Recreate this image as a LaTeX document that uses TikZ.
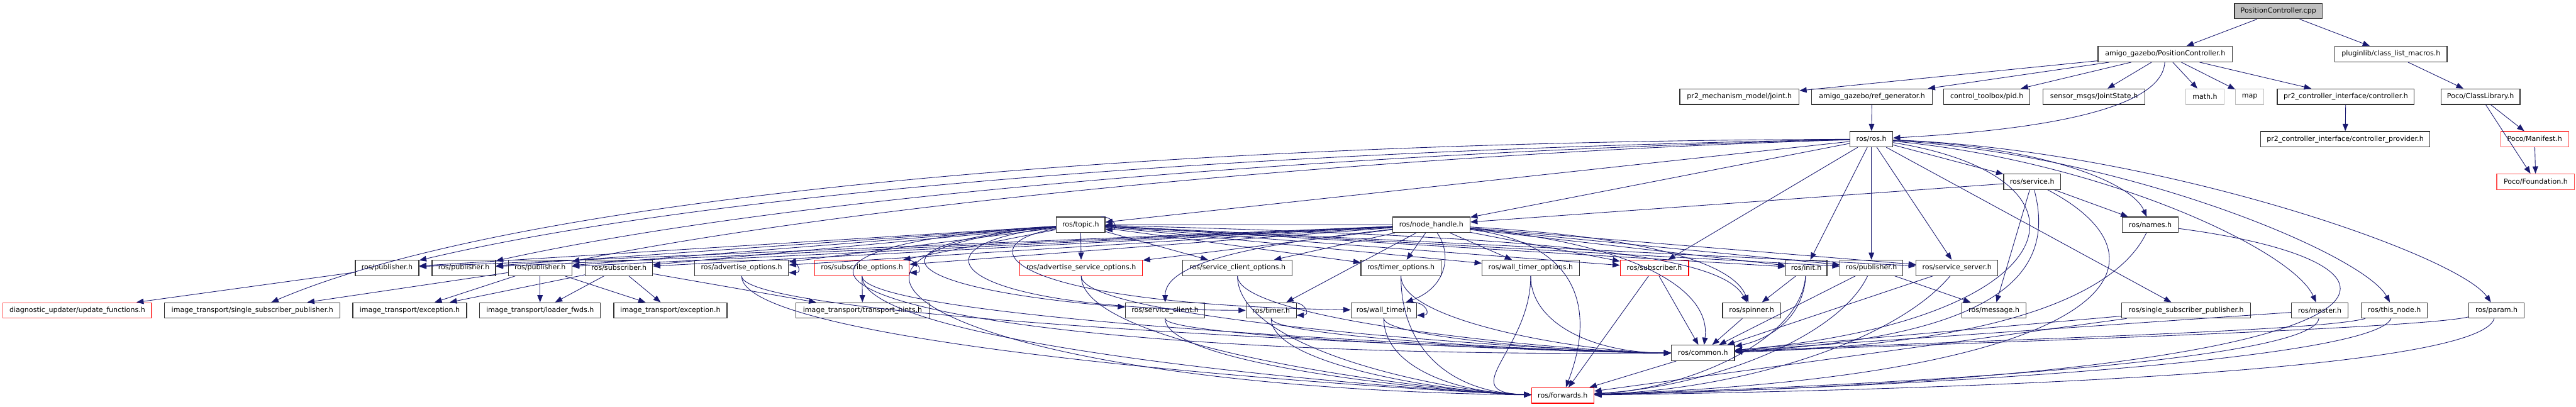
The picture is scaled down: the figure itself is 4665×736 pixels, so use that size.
\documentclass[tikz,border=0pt]{standalone}
\usepackage{fontspec}
\setmainfont{DejaVu Sans}
\usetikzlibrary{arrows.meta}
\definecolor{edgec}{HTML}{191970}
\definecolor{lred}{HTML}{FF4D4D}
\newcommand\boxfont{\fontsize{12.6pt}{15pt}\selectfont}
\tikzset{b/.style={draw=black!80,line width=1.4pt,minimum width=#1pt,minimum height=28pt,inner xsep=3pt,inner ysep=0pt,font=\boxfont},
rb/.style={b=#1,draw=red},lb/.style={b=#1,draw=lred},gb/.style={b=#1,draw=black!25},
arr/.style={draw=edgec,line width=1pt,-{Triangle[length=13pt,width=10pt]}}}

\begin{document}
\begin{tikzpicture}[x=1pt,y=-1pt]
\useasboundingbox(0,0)rectangle(4665,736);
\node[b=159,fill=black!25](cpp)at(4126,20){PositionController.cpp};
\node[b=243](agpc)at(3921,98){amigo\_gazebo/PositionController.h};\node[b=203](clm)at(4330,98){pluginlib/class\_list\_macros.h};
\node[b=216](joint)at(3150,175){pr2\_mechanism\_model/joint.h};\node[b=218](refgen)at(3390,175){amigo\_gazebo/ref\_generator.h};
\node[b=156](pid)at(3598,175){control\_toolbox/pid.h};\node[b=185](jstate)at(3792,175){sensor\_msgs/JointState.h};
\node[gb=69](math)at(3993,175){math.h};\node[gb=51](map)at(4074,175){map};
\node[b=248](ctrl)at(4248,175){pr2\_controller\_interface/controller.h};\node[b=143](pocolib)at(4492,175){Poco/ClassLibrary.h};
\node[b=77](ros)at(3389,252){ros/ros.h};\node[b=306](ctrlprov)at(4247,252){pr2\_controller\_interface/controller\_provider.h};
\node[lb=123](manifest)at(4590,252){Poco/Manifest.h};
\node[b=103](service)at(3680,329){ros/service.h};\node[lb=141](foundation)at(4592,329){Poco/Foundation.h};
\node[b=88](topic)at(1957,407){ros/topic.h};\node[b=140](nh)at(2592,407){ros/node\_handle.h};\node[b=102](names)at(3894,407){ros/names.h};
\node[b=115](pa)at(701,485){ros/publisher.h};\node[b=115](pb)at(840,485){ros/publisher.h};
\node[b=115](pc)at(978,485){ros/publisher.h};\node[b=122](sa)at(1121,485){ros/subscriber.h};
\node[b=170](ao)at(1343,485){ros/advertise\_options.h};\node[rb=171](so)at(1561,485){ros/subscribe\_options.h};
\node[rb=222](aso)at(1958,485){ros/advertise\_service\_options.h};\node[b=198](sco)at(2241,485){ros/service\_client\_options.h};
\node[b=145](topt)at(2537,485){ros/timer\_options.h};\node[b=176](wtopt)at(2772,485){ros/wall\_timer\_options.h};
\node[rb=124](sb)at(2996,485){ros/subscriber.h};\node[b=75](init)at(3271,485){ros/init.h};
\node[b=114](pd)at(3389,485){ros/publisher.h};\node[b=148](ss)at(3544,485){ros/service\_server.h};
\node[lb=269](diag)at(140,562){diagnostic\_updater/update\_functions.h};
\node[b=318](itssp)at(457,562){image\_transport/single\_subscriber\_publisher.h};
\node[b=206](itexca)at(742,562){image\_transport/exception.h};\node[b=219](loader)at(978,562){image\_transport/loader\_fwds.h};
\node[b=205](itexcb)at(1214,562){image\_transport/exception.h};\node[b=241](hints)at(1562,562){image\_transport/transport\_hints.h};
\node[b=144](srvcli)at(2110,562){ros/service\_client.h};\node[b=91](timer)at(2302,562){ros/timer.h};
\node[b=119](wtimer)at(2506,562){ros/wall\_timer.h};\node[b=105](spinner)at(3172,562){ros/spinner.h};
\node[b=116](message)at(3611,562){ros/message.h};\node[b=233](sspub)at(3959,562){ros/single\_subscriber\_publisher.h};
\node[b=103](master)at(4201,562){ros/master.h};\node[b=120](thisnode)at(4336,562){ros/this\_node.h};
\node[b=100](param)at(4521,562){ros/param.h};
\node[b=114](common)at(3084,639){ros/common.h};\node[rb=113](fwd)at(2830,716){ros/forwards.h};
\foreach\a/\b in{cpp/agpc,cpp/clm,agpc/joint,agpc/refgen,agpc/pid,agpc/jstate,agpc/math,agpc/map,agpc/ctrl,refgen/ros,
ctrl/ctrlprov,clm/pocolib,pocolib/manifest,pocolib/foundation,manifest/foundation}\draw[arr](\a)--(\b);
\draw[arr](agpc)..controls(3915,215)and(3600,240)..(ros);
\foreach\b in{topic,nh,sb,init,pd,ss,service,sspub}\draw[arr](ros)--(\b);
\draw[arr](ros)..controls(2300,255)and(1000,330)..(itssp);
\draw[arr](ros)..controls(2600,265)and(1400,320)..(pa);
\draw[arr](ros)..controls(2600,270)and(1500,340)..(pb);
\draw[arr](ros)..controls(2600,275)and(1600,360)..(pc);
\draw[arr](ros)..controls(3700,265)and(3860,330)..(names);
\draw[arr](ros)..controls(3800,290)and(4150,450)..(master);
\draw[arr](ros)..controls(3850,280)and(4280,460)..(thisnode);
\draw[arr](ros)..controls(3900,270)and(4450,460)..(param);
\draw[arr](ros)..controls(3820,320)and(3760,580)..(common);
\foreach\b in{topic,pa,pb,pc,sa,ao,so,aso,sco,topt,wtopt,sb,init,pd,ss,timer}\draw[arr](nh)--(\b);
\draw[arr](nh)..controls(2300,440)and(2110,470)..(srvcli);
\draw[arr](nh)..controls(2630,460)and(2620,520)..(wtimer);
\draw[arr](nh)..controls(3000,430)and(3140,480)..(spinner);
\draw[arr](nh)..controls(2950,440)and(3100,520)..(common);
\draw[arr](nh)..controls(2860,440)and(2890,560)..(fwd);
\foreach\b in{pa,pb,pc,sa,ao,so,aso,sco,topt,wtopt,sb,init,pd,ss}\draw[arr](topic)--(\b);
\draw[arr](topic)..controls(1560,440)and(1600,520)..(srvcli);
\draw[arr](topic)..controls(1640,440)and(1700,560)..(timer);
\draw[arr](topic)..controls(1750,440)and(1800,550)..(wtimer);
\draw[arr](topic)..controls(2900,430)and(3120,470)..(spinner);
\draw[arr](topic)..controls(1200,450)and(1500,650)..(common);
\draw[arr](topic)..controls(1350,460)and(1700,700)..(fwd);
\foreach\a in{topic,ao,so,timer,wtimer}\draw[arr]([xshift=-8pt]\a.north east)..controls+(25,0)and+(25,0)..([yshift=6pt]\a.south east);
\foreach\a/\b in{pa/diag,pc/itssp,pc/itexca,pc/loader,pc/itexcb,sa/itexca,sa/loader,sa/itexcb,sa/hints,so/hints,
init/spinner,spinner/common,pd/message,service/message,service/names,service/nh,sb/common,sb/fwd,pd/common,ss/common,
common/fwd,sspub/common,sspub/fwd,master/common}\draw[arr](\a)--(\b);
\foreach\a in{ao,so,aso,sco,topt,wtopt}{\draw[arr](\a)..controls+(0,100)and+(-200,0)..(common);
\draw[arr](\a)..controls+(0,150)and+(-200,-5)..(fwd);}
\foreach\a in{srvcli,timer,wtimer}{\draw[arr](\a)..controls+(0,50)and+(-200,0)..(common);
\draw[arr](\a)..controls+(0,100)and+(-200,-5)..(fwd);}
\draw[arr](init)..controls(3265,580)and(3200,615)..(common);
\draw[arr](pd)..controls(3330,610)and(3100,700)..(fwd);
\draw[arr](init)..controls(3260,620)and(3050,705)..(fwd);
\draw[arr](ss)..controls(3430,620)and(3150,705)..(fwd);
\draw[arr](service)..controls(3720,480)and(3650,610)..(common);
\draw[arr](service)..controls(3950,470)and(3850,680)..(fwd);
\draw[arr](names)..controls(3830,540)and(3600,625)..(common);
\draw[arr](names)..controls(4450,480)and(4420,680)..(fwd);
\draw[arr](thisnode)..controls(4200,600)and(3600,615)..(common);
\draw[arr](param)..controls(4380,595)and(3600,620)..(common);
\draw[arr](master)..controls(4190,650)and(3500,695)..(fwd);
\draw[arr](thisnode)..controls(4300,650)and(3500,700)..(fwd);
\draw[arr](param)..controls(4490,670)and(3600,705)..(fwd);
\end{tikzpicture}
\end{document}
